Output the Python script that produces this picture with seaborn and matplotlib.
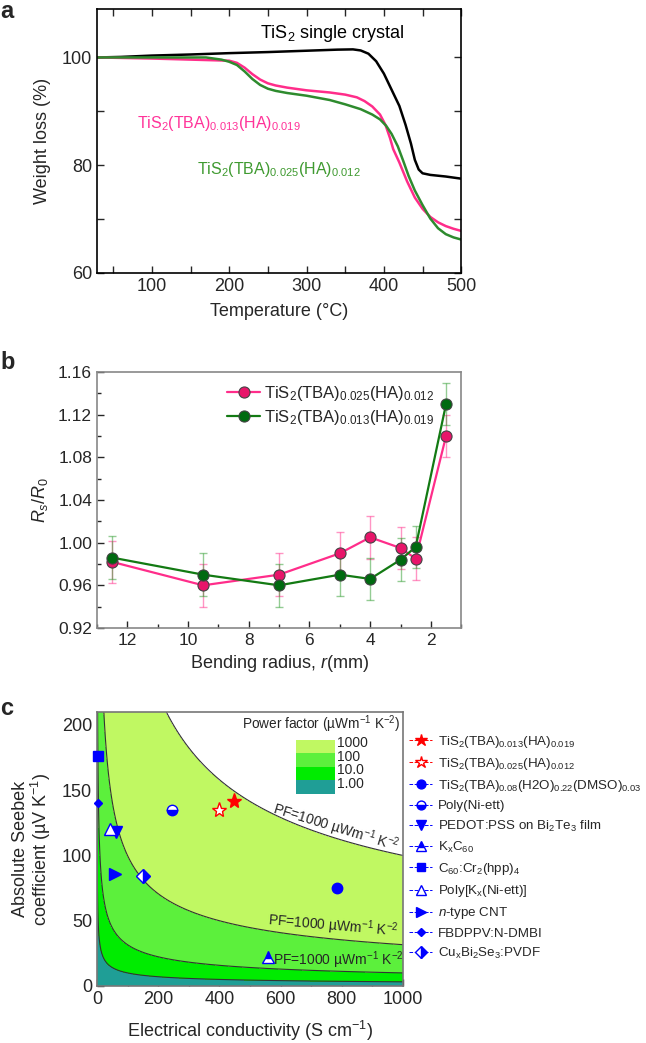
import numpy as np
import pandas as pd
import matplotlib
matplotlib.use("Agg")
import matplotlib.pyplot as plt
import seaborn as sns
from matplotlib.patches import Rectangle
from matplotlib.ticker import MultipleLocator

# ---------------- data: panel a (TGA) ----------------
t_crystal = [30, 60, 100, 150, 200, 250, 300, 340, 360, 370, 380, 390, 400, 410, 420, 428, 435, 440, 445, 450, 460, 480, 500]
w_crystal = [100.0, 100.1, 100.35, 100.55, 100.8, 101.0, 101.25, 101.45, 101.5, 101.3, 100.7, 99.3, 97.0, 94.0, 91.0, 87.5, 84.0, 81.0, 79.2, 78.5, 78.2, 77.9, 77.5]
t_pink = [30, 100, 150, 200, 210, 220, 230, 240, 250, 260, 275, 300, 330, 350, 365, 375, 385, 395, 402, 408, 412, 420, 430, 440, 450, 460, 470, 480, 490, 500]
w_pink = [100, 99.8, 99.6, 99.4, 99.0, 98.1, 96.9, 95.9, 95.2, 94.8, 94.4, 93.9, 93.5, 93.1, 92.6, 91.9, 90.9, 89.4, 87.5, 85.0, 83.0, 80.5, 77.0, 74.0, 71.9, 70.4, 69.4, 68.7, 68.2, 67.8]
t_green = [30, 100, 170, 190, 200, 210, 220, 230, 240, 250, 260, 275, 300, 330, 350, 370, 385, 395, 403, 410, 418, 425, 432, 440, 450, 460, 470, 480, 490, 500]
w_green = [100, 100, 100, 99.6, 99.2, 98.6, 97.4, 96.0, 94.9, 94.2, 93.8, 93.4, 92.9, 92.1, 91.3, 90.4, 89.4, 88.5, 87.3, 85.8, 83.5, 80.8, 78.0, 75.3, 72.6, 70.1, 68.3, 67.2, 66.6, 66.2]

# ---------------- data: panel b (bending) ----------------
radius = [12.5, 9.5, 7, 5, 4, 3, 2.5, 1.5]
rs_pink = [0.982, 0.960, 0.970, 0.990, 1.005, 0.995, 0.985, 1.100]
err_pink = [0.02, 0.02, 0.02, 0.02, 0.02, 0.02, 0.02, 0.02]
rs_green = [0.986, 0.970, 0.960, 0.970, 0.966, 0.984, 0.996, 1.130]
err_green = [0.02, 0.02, 0.02, 0.02, 0.02, 0.02, 0.02, 0.02]

# ---------------- data: panel c (Seebeck vs conductivity) ----------------
mat_labels = [
    "TiS$_2$(TBA)$_{0.013}$(HA)$_{0.019}$",
    "TiS$_2$(TBA)$_{0.025}$(HA)$_{0.012}$",
    "TiS$_2$(TBA)$_{0.08}$(H2O)$_{0.22}$(DMSO)$_{0.03}$",
    "Poly(Ni-ett)",
    "PEDOT:PSS on Bi$_2$Te$_3$ film",
    "K$_x$C$_{60}$",
    "C$_{60}$:Cr$_2$(hpp)$_4$",
    "Poly[K$_x$(Ni-ett)]",
    "$\\mathit{n}$-type CNT",
    "FBDPPV:N-DMBI",
    "Cu$_x$Bi$_2$Se$_3$:PVDF",
]
mat_sigma = [449, 400, 783, 246, 61, 560, 4, 43, 58, 2, 149]
mat_seebeck = [142, 135, 75, 135, 118, 22, 176, 120, 86, 140, 84]
pf_levels = [1, 10, 100, 1000]
pf_legend_labels = ["1000", "100", "10.0", "1.00"]

# ---------------- style ----------------
sns.set_theme(style="ticks")
plt.rcParams['font.family'] = ['Liberation Sans', 'DejaVu Sans']
plt.rcParams['mathtext.fontset'] = 'custom'
plt.rcParams['mathtext.rm'] = 'Liberation Sans'
plt.rcParams['mathtext.it'] = 'Liberation Sans:italic'
plt.rcParams['mathtext.bf'] = 'Liberation Sans:bold'
plt.rcParams['mathtext.default'] = 'regular'

fig = plt.figure(figsize=(6.46, 10.43), dpi=100)

PINK = '#ff2d8a'
GREEN = '#2e8b2e'

# ================= panel a =================
axa = fig.add_axes([0.150, 0.7383, 0.564, 0.2531])
sns.lineplot(x=t_crystal, y=w_crystal, ax=axa, color='black', lw=1.8, sort=False)
sns.lineplot(x=t_pink, y=w_pink, ax=axa, color=PINK, lw=1.8, sort=False)
sns.lineplot(x=t_green, y=w_green, ax=axa, color=GREEN, lw=1.8, sort=False)
axa.set_xlim(29, 500)
axa.set_ylim(60, 109)
axa.xaxis.set_major_locator(MultipleLocator(100))
axa.xaxis.set_minor_locator(MultipleLocator(50))
axa.yaxis.set_major_locator(MultipleLocator(20))
axa.yaxis.set_minor_locator(MultipleLocator(10))
axa.tick_params(which='both', direction='in', top=True, right=True, labelsize=13, width=1)
axa.tick_params(which='major', length=5)
axa.tick_params(which='minor', length=5)
axa.set_xlabel("Temperature (°C)", fontsize=13, labelpad=6)
axa.set_ylabel("Weight loss (%)", fontsize=13, labelpad=8)
for s in axa.spines.values():
    s.set_color('black'); s.set_linewidth(1.2)
axa.text(240, 104.4, "TiS$_2$ single crystal", fontsize=13, color='black', va='center')
axa.text(81, 87.8, "TiS$_2$(TBA)$_{0.013}$(HA)$_{0.019}$", fontsize=11.5, color='#ff3399', va='center')
axa.text(158, 79.2, "TiS$_2$(TBA)$_{0.025}$(HA)$_{0.012}$", fontsize=11.5, color='#3f9a30', va='center')

# ================= panel b =================
axb = fig.add_axes([0.150, 0.3979, 0.564, 0.2454])
axb.errorbar(radius, rs_pink, yerr=err_pink, fmt='none', ecolor=PINK, alpha=0.5, capsize=3, elinewidth=1)
axb.errorbar(radius, rs_green, yerr=err_green, fmt='none', ecolor='#2a9a2a', alpha=0.5, capsize=3, elinewidth=1)
sns.lineplot(x=radius, y=rs_pink, ax=axb, color=PINK, lw=1.6, marker='o', markersize=8,
             markerfacecolor='#e8156a', markeredgecolor='#444444', markeredgewidth=0.8,
             label="TiS$_2$(TBA)$_{0.025}$(HA)$_{0.012}$", sort=False)
sns.lineplot(x=radius, y=rs_green, ax=axb, color='#137a13', lw=1.6, marker='o', markersize=8,
             markerfacecolor='#006a10', markeredgecolor='#444444', markeredgewidth=0.8,
             label="TiS$_2$(TBA)$_{0.013}$(HA)$_{0.019}$", sort=False)
axb.set_xlim(13, 1)
axb.set_ylim(0.92, 1.16)
axb.xaxis.set_major_locator(MultipleLocator(2))
axb.xaxis.set_minor_locator(MultipleLocator(1))
axb.yaxis.set_major_locator(MultipleLocator(0.04))
axb.yaxis.set_minor_locator(MultipleLocator(0.02))
axb.yaxis.set_major_formatter(matplotlib.ticker.FormatStrFormatter('%.2f'))
axb.tick_params(which='both', direction='in', labelsize=12.5, width=1)
axb.tick_params(which='major', length=5)
axb.tick_params(which='minor', length=3)
axb.set_xlabel("Bending radius, $\\mathit{r}$(mm)", fontsize=13, labelpad=4)
axb.set_ylabel("$\\mathit{R_s}/\\mathit{R}_0$", fontsize=13, labelpad=6)
for s in axb.spines.values():
    s.set_color('#888888'); s.set_linewidth(1.2)
axb.legend(loc='upper left', bbox_to_anchor=(0.357, 0.955), frameon=False, fontsize=12,
           handlelength=2.0, handletextpad=0.2, labelspacing=0.3, borderaxespad=0,
           borderpad=0)

# ================= panel c =================
axc = fig.add_axes([0.150, 0.0547, 0.474, 0.2627])
sig = np.concatenate([np.linspace(0.01, 30, 600), np.linspace(30, 1000, 900)])
see = np.linspace(0, 210, 700)
SG, SB = np.meshgrid(sig, see)
PF = SB ** 2 * SG * 1e-4
fill_colors = ['#1f9e96', '#00ec00', '#5cf03c', '#c0f862', 'white']
axc.contourf(SG, SB, PF, levels=[0] + pf_levels + [1e12], colors=fill_colors)
axc.contour(SG, SB, PF, levels=pf_levels, colors='#333333', linewidths=0.8)

marker_specs = [
    dict(marker='*', color='red', mfc='red', mec='red', ms=11),
    dict(marker='*', color='red', mfc='white', mec='red', ms=11, mew=1),
    dict(marker='o', color='blue', mfc='blue', mec='blue', ms=7.5),
    dict(marker='o', color='blue', mfc='blue', mec='blue', ms=7.5, fillstyle='bottom', markerfacecoloralt='white'),
    dict(marker='v', color='blue', mfc='blue', mec='blue', ms=8),
    dict(marker='^', color='blue', mfc='blue', mec='blue', ms=8, fillstyle='top', markerfacecoloralt='white'),
    dict(marker='s', color='blue', mfc='blue', mec='blue', ms=6.5),
    dict(marker='^', color='blue', mfc='white', mec='blue', ms=8.5, mew=1),
    dict(marker='>', color='blue', mfc='blue', mec='blue', ms=8),
    dict(marker='D', color='blue', mfc='blue', mec='blue', ms=4.5),
    dict(marker='D', color='blue', mfc='blue', mec='blue', ms=7.5, fillstyle='right', markerfacecoloralt='white'),
]
handles = []
for lab, sx, sy, spec in zip(mat_labels, mat_sigma, mat_seebeck, marker_specs):
    h, = axc.plot([sx], [sy], linestyle='--', lw=0.7, label=lab, zorder=5, clip_on=False, **spec)
    handles.append(h)

axc.set_xlim(0, 1000)
axc.set_ylim(0, 210)
axc.xaxis.set_major_locator(MultipleLocator(200))
axc.xaxis.set_minor_locator(MultipleLocator(100))
axc.yaxis.set_major_locator(MultipleLocator(50))
axc.yaxis.set_minor_locator(MultipleLocator(25))
axc.tick_params(which='both', direction='in', labelsize=13, width=1)
axc.tick_params(which='major', length=5)
axc.tick_params(which='minor', length=3)
axc.set_xlabel("Electrical conductivity (S cm$^{-1}$)", fontsize=13, labelpad=8)
axc.set_ylabel("Absolute Seebek\ncoefficient (µV K$^{-1}$)", fontsize=13, labelpad=6, linespacing=1.0)
for s in axc.spines.values():
    s.set_color('#777777'); s.set_linewidth(1.2)

pf_text = "PF=1000 µWm$^{-1}$ K$^{-2}$"
axc.text(781, 121, pf_text, fontsize=10, rotation=-17, ha='center', va='center')
axc.text(771, 46, pf_text, fontsize=10, rotation=-5, ha='center', va='center')
axc.text(788, 20, pf_text, fontsize=10, rotation=0, ha='center', va='center')

# power factor key
axc.text(0.99, 0.957, "Power factor (µWm$^{-1}$ K$^{-2}$)", transform=axc.transAxes,
         fontsize=9.8, ha='right', va='center')
key_cols = ['#c0f862', '#5cf03c', '#00ec00', '#1f9e96']
y_top = 0.898
h_key = 0.0493
for i, (kc, kl) in enumerate(zip(key_cols, pf_legend_labels)):
    y0 = y_top - (i + 1) * h_key
    axc.add_patch(Rectangle((0.650, y0), 0.128, h_key, transform=axc.transAxes,
                            facecolor=kc, edgecolor='none', zorder=6))
    axc.text(0.785, y0 + 0.75 * h_key, kl, transform=axc.transAxes, fontsize=10,
             ha='left', va='center', zorder=6)

fig.legend(handles=handles, loc='upper left', bbox_to_anchor=(0.633, 0.2965),
           frameon=False, fontsize=9.6, numpoints=1, handlelength=1.75, markerscale=0.85,
           handletextpad=0.45, labelspacing=0.46, borderaxespad=0, borderpad=0)

# panel letters
fig.text(0.0, 0.989, "a", fontsize=17, fontweight='bold', va='center')
fig.text(0.0, 0.652, "b", fontsize=17, fontweight='bold', va='center')
fig.text(0.0, 0.321, "c", fontsize=17, fontweight='bold', va='center')

fig.savefig("out.png", dpi=100)
